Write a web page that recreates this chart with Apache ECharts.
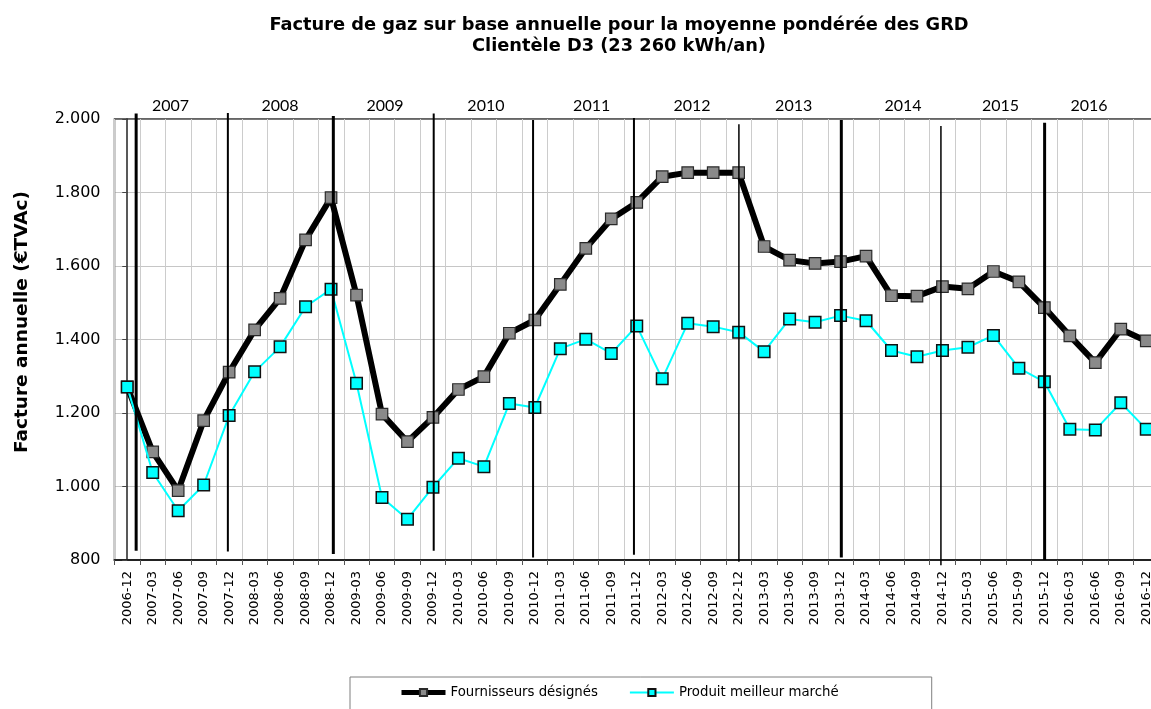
<!DOCTYPE html>
<html>
<head>
<meta charset="utf-8">
<title>Facture de gaz - Clientèle D3</title>
<script src="https://cdn.jsdelivr.net/npm/echarts@6/dist/echarts.min.js"></script>
<style>
  html, body { margin: 0; padding: 0; background: #ffffff; }
  #chart { width: 1151px; height: 709px; }
</style>
</head>
<body>
<div id="chart"></div>
<script>
// Quarterly observation dates
const quarters = [
  '2006-12',
  '2007-03', '2007-06', '2007-09', '2007-12',
  '2008-03', '2008-06', '2008-09', '2008-12',
  '2009-03', '2009-06', '2009-09', '2009-12',
  '2010-03', '2010-06', '2010-09', '2010-12',
  '2011-03', '2011-06', '2011-09', '2011-12',
  '2012-03', '2012-06', '2012-09', '2012-12',
  '2013-03', '2013-06', '2013-09', '2013-12',
  '2014-03', '2014-06', '2014-09', '2014-12',
  '2015-03', '2015-06', '2015-09', '2015-12',
  '2016-03', '2016-06', '2016-09', '2016-12'
];

// Annual bill (EUR incl. VAT) – designated suppliers
const fournisseursDesignes = [
  1271,
  1094, 989, 1179, 1311,
  1426, 1512, 1671, 1786,
  1521, 1197, 1122, 1188,
  1264, 1299, 1417, 1453,
  1550, 1648, 1728, 1773,
  1843, 1854, 1854, 1854,
  1653, 1616, 1607, 1612,
  1627, 1519, 1518, 1544,
  1538, 1585, 1557, 1487,
  1410, 1337, 1428, 1396
];

// Annual bill (EUR incl. VAT) – cheapest product on the market
const produitMeilleurMarche = [
  1271,
  1038, 934, 1004, 1193,
  1312, 1380, 1489, 1537,
  1281, 970, 911, 998,
  1077, 1054, 1226, 1215,
  1375, 1401, 1362, 1437,
  1293, 1444, 1435, 1420,
  1367, 1456, 1447, 1465,
  1451, 1370, 1353, 1370,
  1379, 1411, 1322, 1285,
  1156, 1154, 1228, 1156
];

// Value axis ticks
const yTicks = [800, 1000, 1200, 1400, 1600, 1800, 2000];

// Year headings, centred at a position along the quarter axis (in quarter index units)
const years = ['2007', '2008', '2009', '2010', '2011', '2012', '2013', '2014', '2015', '2016'];
const yearLabelPos = [1.70, 6.0, 10.12, 14.08, 18.23, 22.17, 26.16, 30.45, 34.28, 37.75];

// Year separators: position along the quarter axis, and the value range each one spans
const yearLinePos    = [0.35, 3.95, 8.09, 12.03, 15.93, 19.89, 24.01, 28.03, 31.94, 36.01];
const yearLineTop    = [2015, 2016, 2008, 2015, 1997, 2003, 1986, 1997, 1981, 1990];
const yearLineBottom = [825, 823, 816, 825, 807, 814, 795, 807, 786, 800];

// Stroke widths of the separators
const yearLineWidths = [3, 2, 3, 2, 2, 2, 1.5, 3, 1.5, 3];

const FONT = '"DejaVu Sans", "Liberation Sans", Arial, sans-serif';

function fmtThousands(v) {
  if (v >= 1000) {
    return Math.floor(v / 1000) + '.' + String(v % 1000).padStart(3, '0');
  }
  return String(v);
}

const chart = echarts.init(document.getElementById('chart'), null, { renderer: 'canvas' });

const option = {
  backgroundColor: '#ffffff',
  animation: false,
  title: {
    text: 'Facture de gaz sur base annuelle pour la moyenne pondérée des GRD\nClientèle D3 (23 260 kWh/an)',
    left: 614,
    top: 10,
    textAlign: 'center',
    textStyle: {
      fontFamily: FONT,
      fontWeight: 'bold',
      fontSize: 17.8,
      lineHeight: 21,
      color: '#000'
    }
  },
  graphic: [
    {
      type: 'text',
      x: 22,
      y: 322,
      rotation: Math.PI / 2,
      style: {
        text: 'Facture annuelle (€TVAc)',
        fontFamily: FONT,
        fontWeight: 'bold',
        fontSize: 18.5,
        fill: '#000',
        align: 'center',
        verticalAlign: 'middle'
      }
    }
  ],
  legend: {
    left: 350,
    top: 677,
    orient: 'horizontal',
    padding: [9, 93, 30, 49],
    itemGap: 31,
    itemWidth: 44,
    itemHeight: 9,
    borderColor: '#7f7f7f',
    borderWidth: 1,
    backgroundColor: '#fff',
    textStyle: { fontFamily: FONT, fontSize: 13.3, color: '#000' },
    data: [
      { name: 'Fournisseurs désignés', lineStyle: { width: 5, color: '#000' } },
      { name: 'Produit meilleur marché', lineStyle: { width: 2, color: '#00ffff' } }
    ]
  },
  grid: {
    left: 114.5,
    top: 119,
    width: 1044.5,
    bottom: 149,
    show: true,
    borderColor: '#333',
    borderWidth: 1.5,
    containLabel: false,
    outerBoundsMode: 'none'
  },
  xAxis: [
    {
      type: 'category',
      data: quarters,
      boundaryGap: true,
      axisLine: { show: true, lineStyle: { color: '#222', width: 2 } },
      axisTick: { show: true, length: 5, interval: 0, lineStyle: { color: '#555', width: 1 } },
      axisLabel: {
        interval: 0,
        rotate: 90,
        margin: 11,
        fontFamily: FONT,
        fontSize: 13,
        color: '#000'
      },
      splitLine: { show: true, interval: 0, lineStyle: { color: '#cccccc', width: 1 } }
    },
    {
      // linear companion of the quarter axis, for separators and year headings
      type: 'value',
      min: -0.5,
      max: quarters.length - 0.5,
      show: false
    }
  ],
  yAxis: {
    type: 'value',
    min: yTicks[0],
    max: yTicks[yTicks.length - 1],
    interval: 200,
    axisLine: { show: true, lineStyle: { color: '#222', width: 1.5 } },
    axisTick: { show: true, length: 5, inside: false, lineStyle: { color: '#444' } },
    axisLabel: {
      margin: 14,
      fontFamily: FONT,
      fontSize: 16,
      color: '#000',
      formatter: fmtThousands
    },
    splitLine: { show: true, lineStyle: { color: '#8c8c8c', type: 'dotted', width: 1 } }
  },
  series: [
    {
      name: 'Fournisseurs désignés',
      type: 'line',
      data: fournisseursDesignes,
      symbol: 'rect',
      symbolSize: 11.5,
      showAllSymbol: true,
      lineStyle: { color: '#000', width: 6 },
      itemStyle: { color: '#8a8a8a', borderColor: '#2a2a2a', borderWidth: 1.2 },
      z: 3
    },
    {
      name: 'Produit meilleur marché',
      type: 'line',
      data: produitMeilleurMarche,
      symbol: 'rect',
      symbolSize: 11.5,
      showAllSymbol: true,
      lineStyle: { color: '#00ffff', width: 2 },
      itemStyle: { color: '#00ffff', borderColor: '#111', borderWidth: 1.5 },
      z: 4
    },
    {
      // year separators
      type: 'custom',
      xAxisIndex: 1,
      yAxisIndex: 0,
      silent: true,
      z: 10,
      clip: false,
      data: yearLinePos.map((p, i) => [p, yearLineTop[i], yearLineBottom[i]]),
      renderItem: function (params, api) {
        const a = api.coord([api.value(0), api.value(1)]);
        const b = api.coord([api.value(0), api.value(2)]);
        return {
          type: 'line',
          shape: { x1: a[0], y1: a[1], x2: b[0], y2: b[1] },
          style: { stroke: '#000', lineWidth: yearLineWidths[params.dataIndex] }
        };
      }
    },
    {
      // year headings above the plot
      type: 'custom',
      xAxisIndex: 1,
      yAxisIndex: 0,
      silent: true,
      z: 10,
      clip: false,
      data: yearLabelPos.map((p) => [p]),
      renderItem: function (params, api) {
        const p = api.coord([api.value(0), yTicks[yTicks.length - 1]]);
        return {
          type: 'text',
          x: p[0],
          y: p[1] - 13,
          style: {
            text: years[params.dataIndex],
            fontFamily: '"Lato", "Open Sans", sans-serif',
            fontSize: 16,
            fill: '#000',
            align: 'center',
            verticalAlign: 'middle'
          }
        };
      }
    }
  ]
};

chart.setOption(option);
</script>
</body>
</html>
